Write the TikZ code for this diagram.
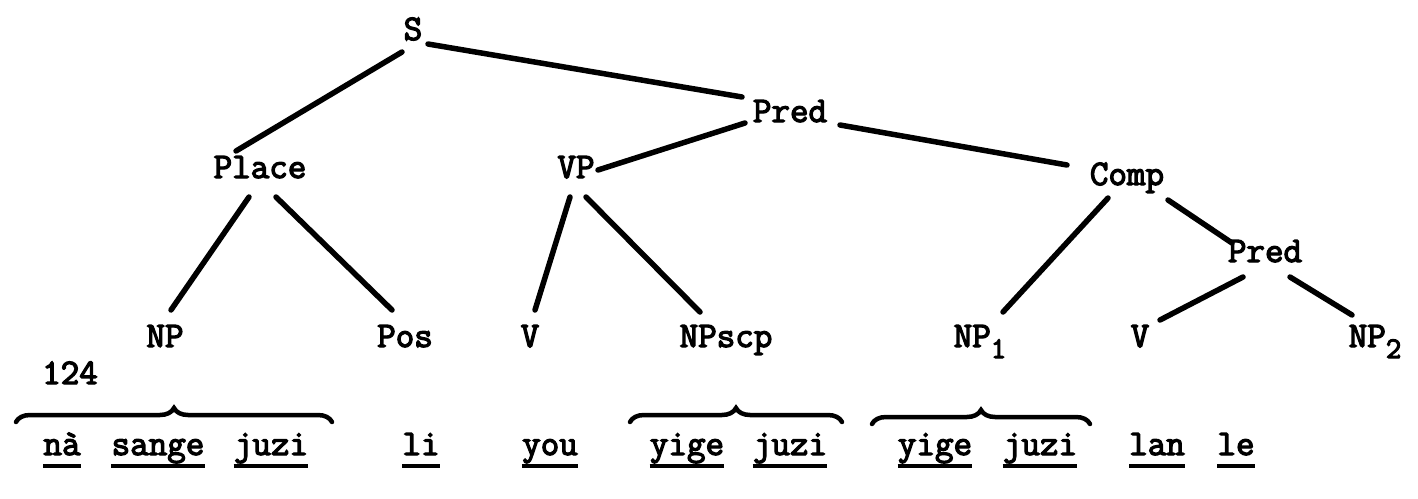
\documentclass[tikz,border=0pt]{standalone}
\usepackage{fontspec}
\newfontfamily\twfont{Latin Modern Mono}[FakeBold=3.5]
\usetikzlibrary{decorations.pathreplacing}
\newcommand{\sbs}[1]{\raisebox{-11pt}{\fontsize{30}{30}\selectfont #1}}
\tikzset{
  lbl/.style={anchor=base, inner sep=0pt, font=\twfont\fontsize{36}{36}\selectfont},
  wrd/.style={anchor=base, inner sep=0pt, font=\twfont\fontsize{36}{36}\selectfont},
  edge/.style={line width=5.5pt, line cap=round},
  uline/.style={line width=3.5pt},
  brc/.style={line width=4.5pt, line cap=round, decorate, decoration={brace, amplitude=14pt, raise=0pt}}
}
\begin{document}
\begin{tikzpicture}[x=1pt,y=-1pt]
\useasboundingbox (0,0) rectangle (1418,498);
% tree labels
\node[lbl] (S) at (413,40) {S};
\node[lbl] (Pred1) at (790,122) {Pred};
\node[lbl] (Place) at (260,178) {Place};
\node[lbl] (VP) at (576,178) {VP};
\node[lbl] (Comp) at (1127,185) {Comp};
\node[lbl] (Pred2) at (1265,262) {Pred};
\node[lbl] (NP) at (165,347) {NP};
\node[lbl] (Pos) at (405,347) {Pos};
\node[lbl] (V1) at (530,347) {V};
\node[lbl] (NPscp) at (726,347) {NPscp};
\node[lbl] (NP1) at (980,347) {NP\sbs{1}};
\node[lbl] (V2) at (1140,347) {V};
\node[lbl] (NP2) at (1375,347) {NP\sbs{2}};
\node[lbl] (num) at (70,384) {124};
% edges
\draw[edge] ([shift={(-11,12)}]S.base) -- ([shift={(-24,-27)}]Place.base);
\draw[edge] ([shift={(15,4)}]S.base) -- ([shift={(-48,-25)}]Pred1.base);
\draw[edge] ([shift={(-45,1)}]Pred1.base) -- ([shift={(22,-8)}]VP.base);
\draw[edge] ([shift={(50,3)}]Pred1.base) -- ([shift={(-60,-20)}]Comp.base);
\draw[edge] ([shift={(-11,19)}]Place.base) -- ([shift={(6,-37)}]NP.base);
\draw[edge] ([shift={(16,19)}]Place.base) -- ([shift={(-13,-37)}]Pos.base);
\draw[edge] ([shift={(-6,19)}]VP.base) -- ([shift={(5,-37)}]V1.base);
\draw[edge] ([shift={(10,19)}]VP.base) -- ([shift={(-26,-35)}]NPscp.base);
\draw[edge] ([shift={(-19,13)}]Comp.base) -- ([shift={(23,-35)}]NP1.base);
\draw[edge] ([shift={(41,15)}]Comp.base) -- ([shift={(-33,-19)}]Pred2.base);
\draw[edge] ([shift={(-22,15)}]Pred2.base) -- ([shift={(20,-27)}]V2.base);
\draw[edge] ([shift={(25,15)}]Pred2.base) -- ([shift={(-23,-32)}]NP2.base);
% words
\node[wrd] (w1) at (62,455) {nà};
\node[wrd] (w2) at (158,455) {sange};
\node[wrd] (w3) at (271,455) {juzi};
\node[wrd] (w4) at (421,455) {li};
\node[wrd] (w5) at (550,455) {you};
\node[wrd] (w6) at (687,455) {yige};
\node[wrd] (w7) at (790,455) {juzi};
\node[wrd] (w8) at (935,455) {yige};
\node[wrd] (w9) at (1040,455) {juzi};
\node[wrd] (w10) at (1157,455) {lan};
\node[wrd] (w11) at (1236,455) {le};
\foreach \w in {w1,w2,w3,w4,w5,w6,w7,w8,w9,w10,w11}
  \draw[uline] ([yshift=-11pt]\w.base west) -- ([yshift=-11pt]\w.base east);
% braces
\coordinate (b1l) at (16,422); \coordinate (b1r) at (332,422);
\coordinate (b2l) at (630,422); \coordinate (b2r) at (842,422);
\coordinate (b3l) at (872,424); \coordinate (b3r) at (1090,424);
\draw[brc] (b1l) -- (b1r);
\draw[brc] (b2l) -- (b2r);
\draw[brc] (b3l) -- (b3r);
\end{tikzpicture}
\end{document}
